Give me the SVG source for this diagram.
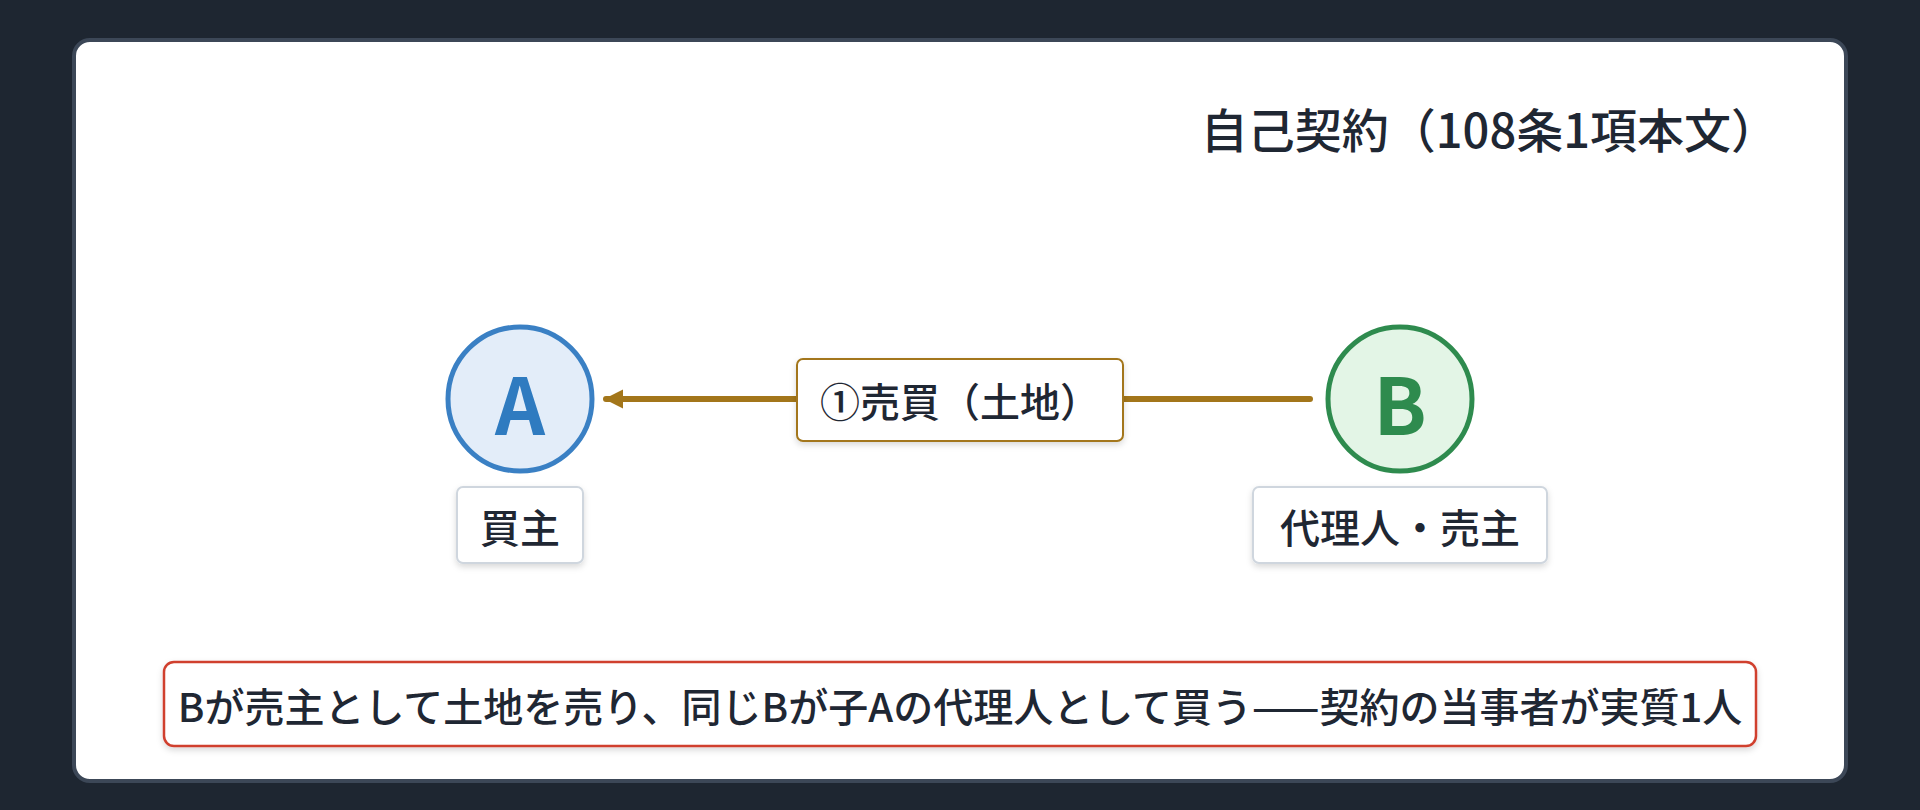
<svg xmlns="http://www.w3.org/2000/svg" width="1920" height="810" viewBox="0 0 1920 810">
<defs>
<style>
text{font-family:"Noto Sans CJK JP","Noto Sans",sans-serif;fill:#1f2733;font-weight:500;}
.lbl{fill:#fff;stroke:#cfd6de;stroke-width:2;}
.t{font-size:40px;text-anchor:middle;dominant-baseline:central;}
</style>
<filter id="sh" x="-10%" y="-20%" width="120%" height="150%"><feDropShadow dx="0" dy="3" stdDeviation="3" flood-color="#000" flood-opacity="0.15"/></filter>
<marker id="ah" viewBox="0 0 10 10" refX="9" refY="5" markerWidth="3.2" markerHeight="3.2" orient="auto-start-reverse"><path d="M0,0L10,5L0,10z" fill="#a3761a"/></marker>
</defs>
<rect width="1920" height="810" fill="#1e2631"/>
<rect x="74" y="40" width="1772" height="741" rx="16" fill="#fff" stroke="#3c4757" stroke-width="4"/>
<text x="1778" y="127" font-size="47" text-anchor="end" dominant-baseline="central">自己契約（108条1項本文）</text>
<g id="connectors">
<line x1="1310" y1="399" x2="606" y2="399" stroke="#a3761a" stroke-width="6" stroke-linecap="round" marker-end="url(#ah)"/>
<rect x="797" y="359" width="326" height="82" rx="6" fill="#fff" stroke="#a3761a" stroke-width="2" filter="url(#sh)"/>
<text x="960" y="400" class="t" font-size="41">①売買（土地）</text>
</g>
<g id="nodeA">
<circle cx="520" cy="399" r="72" fill="#e3edf9" stroke="#3a80c4" stroke-width="5"/>
<text x="520" y="401" font-size="78" font-weight="600" text-anchor="middle" dominant-baseline="central" style="fill:#2f7bc0;font-weight:600">A</text>
<rect x="457" y="487" width="126" height="76" rx="6" class="lbl" filter="url(#sh)"/>
<text x="520" y="526" class="t">買主</text>
</g>
<g id="nodeB">
<circle cx="1400" cy="399" r="72" fill="#e3f5e6" stroke="#2e8b4e" stroke-width="5"/>
<text x="1400" y="401" font-size="78" text-anchor="middle" dominant-baseline="central" style="fill:#2e8b4e;font-weight:600">B</text>
<rect x="1253" y="487" width="294" height="76" rx="6" class="lbl" filter="url(#sh)"/>
<text x="1400" y="526" class="t">代理人・売主</text>
</g>
<g id="note">
<rect x="164" y="662" width="1592" height="84" rx="10" fill="#fff" stroke="#d0402f" stroke-width="2.5" filter="url(#sh)"/>
<text x="960" y="705" class="t" font-size="38">Bが売主として土地を売り、同じBが子Aの代理人として買う——契約の当事者が実質1人</text>
</g>
</svg>
